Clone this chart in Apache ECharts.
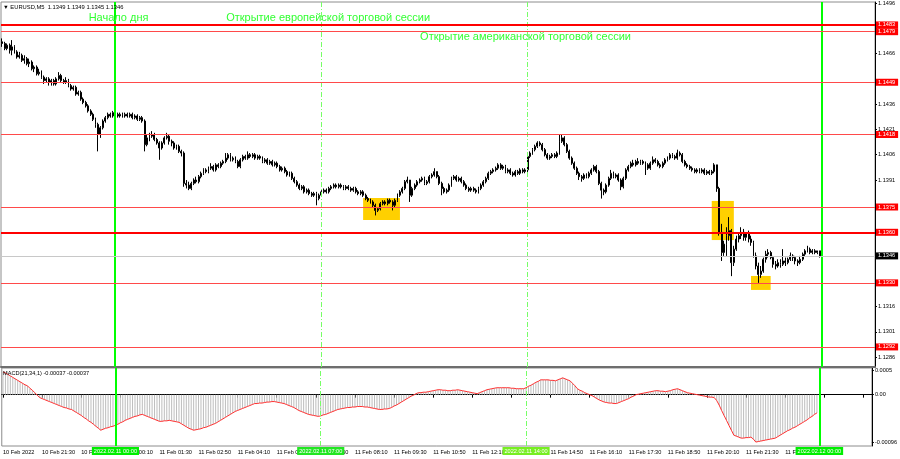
<!DOCTYPE html>
<html><head><meta charset="utf-8">
<script src="https://cdn.jsdelivr.net/npm/echarts@6/dist/echarts.min.js"></script>
<style>html,body{margin:0;padding:0;background:#fff}#c{width:900px;height:459px}</style>
</head><body><div id="c"></div>
<script>
// ===== DATA (EURUSD M5, prices stored as pips above 1.1300) =====
const PRICE_BASE = 1.13, PIP = 0.0001;
const openPips = [
173,172,169,171,168,170,167,164,165,162,
163,160,161,157,158,154,155,152,150,151,
149,150,148,151,153,150,149,150,147,145,
146,142,143,139,137,135,132,130,127,124,
118,122,126,128,130,129,131,130,129,130,
129,130,129,130,128,129,127,128,126,112,
116,117,118,115,113,110,113,116,117,114,
113,110,111,108,107,89,88,86,89,91,
90,93,95,97,96,98,99,97,100,99,
101,102,104,106,103,104,102,99,103,105,
104,106,105,106,104,105,104,102,103,101,
102,100,101,99,97,98,96,94,95,92,
90,88,86,87,84,85,83,82,83,80,
82,84,85,84,86,87,88,87,88,87,
86,87,86,85,86,84,83,84,82,80,
79,78,76,73,74,77,78,77,79,78,
76,79,82,84,86,90,91,82,86,88,
90,91,92,89,90,93,94,96,93,89,
86,84,85,88,92,93,91,92,90,88,
86,85,86,85,84,86,88,90,92,95,
96,97,98,100,98,99,96,97,95,94,
96,95,97,96,97,105,107,109,111,113,
112,109,106,104,105,106,105,107,114,116,
112,108,104,101,98,95,93,92,94,93,
95,97,99,96,89,85,84,88,92,95,
93,94,91,87,92,97,99,101,100,102,
101,102,101,100,98,101,103,102,100,99,
101,103,104,106,105,104,107,106,102,100,
99,98,97,96,97,96,97,95,96,95,
96,100,86,60,48,53,58,61,42,50,
56,58,60,57,59,56,54,46,40,35,
37,44,47,48,45,41,40,42,41,43,
42,44,46,45,43,42,44,47,49,50,
48,49,48,49];
const highPips = [
175,173,172,172,174,171,168,167,166,165,
164,163,162,159,159,157,156,153,152,152,
151,151,152,155,154,151,152,151,148,147,
147,144,144,140,138,136,133,131,128,125,
123,127,129,131,131,132,132,131,131,131,
131,131,131,131,130,130,129,129,127,118,
119,120,119,116,114,114,117,119,118,115,
114,112,112,109,108,91,90,90,92,93,
94,96,98,98,99,101,100,101,101,102,
103,107,107,107,105,105,103,104,106,106,
108,107,107,107,106,106,105,104,104,103,
103,102,102,100,99,99,97,96,96,93,
91,89,88,88,86,86,84,84,84,83,
85,86,86,87,88,89,89,89,89,88,
88,88,87,87,87,85,85,85,83,81,
80,79,77,75,78,79,79,80,80,79,
80,83,85,87,91,93,91,87,89,91,
92,93,93,91,94,95,98,96,94,90,
87,86,89,93,94,94,93,93,91,89,
87,87,87,86,87,89,91,93,96,97,
98,99,101,101,100,100,98,98,96,97,
97,98,98,98,107,108,110,112,114,114,
113,110,107,106,107,107,108,118,118,117,
113,109,105,102,99,96,94,95,95,96,
98,100,100,97,90,86,89,93,97,96,
95,95,92,93,98,100,102,103,103,104,
103,103,102,101,102,105,104,103,101,102,
104,105,107,107,106,109,108,107,103,101,
100,99,98,98,98,98,98,97,97,97,
101,100,87,65,55,63,69,62,52,58,
60,63,62,60,61,58,55,48,42,40,
45,49,50,49,46,43,44,44,50,45,
45,48,47,46,44,46,48,50,52,51,
50,50,49,49];
const lowPips = [
170,168,168,166,165,166,163,163,161,160,
159,158,156,155,153,153,151,148,149,147,
147,147,147,150,149,148,148,146,144,144,
141,141,138,136,134,131,129,126,122,108,
116,121,125,127,128,128,129,128,128,128,
128,128,128,127,127,126,126,125,108,111,
114,116,114,112,103,109,112,115,112,111,
109,109,107,105,87,86,85,85,88,89,
89,92,94,95,95,97,96,96,98,98,
100,101,103,102,102,101,98,98,102,103,
103,104,104,103,103,103,101,101,100,100,
99,99,98,96,96,95,93,93,91,89,
87,85,85,83,83,82,81,81,76,79,
81,83,83,83,85,86,86,86,86,85,
85,85,84,84,83,82,82,81,79,78,
77,75,70,72,73,76,76,76,77,73,
75,78,81,83,85,89,78,81,85,87,
89,90,88,88,89,92,93,92,88,82,
83,83,84,87,91,90,90,89,87,85,
84,84,84,83,83,85,87,89,91,94,
95,96,97,97,97,95,95,94,93,93,
94,94,95,95,95,104,106,108,110,111,
108,105,103,103,104,104,104,106,113,111,
107,103,100,97,94,91,90,91,92,92,
94,96,95,88,80,82,83,87,91,92,
92,90,85,86,91,96,98,99,99,100,
100,100,94,97,97,100,101,99,98,98,
100,102,103,104,103,103,105,101,99,98,
97,96,95,95,95,95,94,94,94,94,
95,84,58,43,46,46,55,34,40,49,
54,56,55,55,54,52,45,38,30,33,
36,42,45,44,39,38,39,39,40,40,
41,43,43,41,40,41,43,46,48,47,
47,47,47,45];
const closePips = [
172,169,171,168,170,167,164,165,162,163,
160,161,157,158,154,155,152,150,151,149,
150,148,151,153,150,149,150,147,145,146,
142,143,139,137,135,132,130,127,124,118,
122,126,128,130,129,131,130,129,130,129,
130,129,130,128,129,127,128,126,112,116,
117,118,115,113,110,113,116,117,114,113,
110,111,108,107,89,88,86,89,91,90,
93,95,97,96,98,99,97,100,99,101,
102,104,106,103,104,102,99,103,105,104,
106,105,106,104,105,104,102,103,101,102,
100,101,99,97,98,96,94,95,92,90,
88,86,87,84,85,83,82,83,80,82,
84,85,84,86,87,88,87,88,87,86,
87,86,85,86,84,83,84,82,80,79,
78,76,73,74,77,78,77,79,78,76,
79,82,84,86,90,91,82,86,88,90,
91,92,89,90,93,94,96,93,89,86,
84,85,88,92,93,91,92,90,88,86,
85,86,85,84,86,88,90,92,95,96,
97,98,100,98,99,96,97,95,94,96,
95,97,96,97,105,107,109,111,113,112,
109,106,104,105,106,105,107,114,116,112,
108,104,101,98,95,93,92,94,93,95,
97,99,96,89,85,84,88,92,95,93,
94,91,87,92,97,99,101,100,102,101,
102,101,100,98,101,103,102,100,99,101,
103,104,106,105,104,107,106,102,100,99,
98,97,96,97,96,97,95,96,95,96,
100,86,60,48,53,58,61,42,50,56,
58,60,57,59,56,54,46,40,35,37,
44,47,48,45,41,40,42,41,43,42,
44,46,45,43,42,44,47,49,50,48,
49,48,49,46];
// MACD(21,34,1) main value, in units of 0.00001 (signal with period 1 equals it)
const macdE5 = [
46,44,41,38,35,32,29,26,23,20,
18,13,9,4,-1,-6,-8,-10,-12,-14,
-16,-18,-20,-22,-24,-26,-27,-29,-30,-33,
-36,-39,-42,-46,-49,-53,-56,-60,-64,-68,
-72,-70,-68,-67,-65,-64,-62,-60,-57,-55,
-52,-50,-48,-46,-44,-43,-41,-40,-42,-44,
-46,-48,-50,-52,-54,-54,-53,-53,-52,-53,
-54,-55,-56,-59,-62,-65,-68,-70,-72,-71,
-70,-69,-67,-66,-64,-62,-60,-58,-55,-52,
-49,-46,-43,-40,-37,-34,-32,-30,-28,-26,
-24,-22,-20,-18,-18,-17,-17,-16,-15,-15,
-14,-14,-15,-16,-17,-18,-20,-22,-24,-26,
-29,-32,-34,-36,-38,-40,-41,-42,-43,-44,
-43,-41,-40,-38,-36,-34,-32,-30,-29,-28,
-27,-26,-26,-25,-25,-24,-24,-24,-25,-25,
-26,-27,-28,-29,-30,-30,-29,-29,-28,-26,
-23,-21,-18,-15,-12,-9,-6,-3,-1,2,
4,4,5,5,6,7,8,9,10,10,
9,9,8,8,9,9,10,9,8,7,
6,5,4,3,2,4,6,8,10,11,
12,13,14,14,14,14,14,14,13,13,
12,12,12,12,14,17,19,22,25,27,
30,30,30,30,29,29,28,30,32,34,
32,30,28,23,18,12,9,7,4,2,
0,-2,-5,-8,-11,-13,-15,-16,-17,-17,
-18,-18,-16,-14,-12,-10,-8,-5,-3,0,
1,2,3,4,5,6,7,8,8,7,
7,6,7,8,10,11,12,10,8,6,
4,3,2,1,0,-1,-2,-3,-4,-5,
-5,-6,-12,-21,-32,-42,-52,-62,-72,-82,
-84,-86,-88,-88,-87,-87,-86,-90,-96,-95,
-94,-93,-92,-91,-90,-89,-88,-85,-82,-79,
-76,-73,-71,-68,-66,-63,-60,-57,-54,-51,
-47,-44,-40,-37];

// Horizontal levels and current price
const levels = [1.1483, 1.1479, 1.1449, 1.1418, 1.1375, 1.1360, 1.1330, 1.1292];
const currentPrice = 1.1346;
// Price-scale ticks (all) and the tick labels left visible beside the price tags
const priceTicks = [1.1496,1.1481,1.1466,1.1451,1.1436,1.1421,1.1406,1.1391,1.1376,1.1361,1.1346,1.1331,1.1316,1.1301,1.1286];
const priceTickLabels = [1.1496,1.1466,1.1436,1.1421,1.1406,1.1391,1.1316,1.1301,1.1286];
const macdTicks = [0.0005, 0, -0.00096];
const macdTickLabels = ['0.0005', '0.00', '-0.00096'];
// Time-axis labels (one every 16 bars, starting at bar 0)
const xLabels = ['10 Feb 2022','10 Feb 21:30','10 Feb 22:50','11 Feb 00:10','11 Feb 01:30','11 Feb 02:50','11 Feb 04:10','11 Feb 05:30','11 Feb 06:50','11 Feb 08:10','11 Feb 09:30','11 Feb 10:50','11 Feb 12:10','11 Feb 13:30','11 Feb 14:50','11 Feb 16:10','11 Feb 17:30','11 Feb 18:50','11 Feb 20:10','11 Feb 21:30','11 Feb 22:50'];
// Vertical time lines
const dayLines = ['2022.02.11 00:00', '2022.02.12 00:00'];
const sessionLines = ['2022.02.11 07:00', '2022.02.11 14:00'];
// Highlighted zones: [from bar time, to bar time, top price, bottom price]
const zones = [
  ['2022.02.11 08:25','2022.02.11 09:40',1.13803,1.13673],
  ['2022.02.11 20:15','2022.02.11 21:00',1.13786,1.13554],
  ['2022.02.11 21:35','2022.02.11 22:15',1.13341,1.13258]
];
// Text annotations: [text, anchor time, anchor price]
const notes = [
  ['Начало дня', '2022.02.10 23:05', 1.14871],
  ['Открытие европейской торговой сессии', '2022.02.11 03:45', 1.14871],
  ['Открытие американской торговой сессии', '2022.02.11 10:20', 1.14758]
];
const titleText = '▼ EURUSD,M5  1.1349 1.1349 1.1345 1.1346';
const macdTitle = 'MACD(21,34,1) -0.00037 -0.00037';

// ===== time categories (M5 slots incl. right chart shift) =====
const SLOT_COUNT = 356;
const categories = [];
for (let i = 0; i < SLOT_COUNT; i++) {
  const m = 20 * 60 + 10 + 5 * i;
  const d = 10 + Math.floor(m / 1440), hm = m % 1440;
  categories.push('2022.02.' + d + ' ' + String(Math.floor(hm / 60)).padStart(2, '0') + ':' + String(hm % 60).padStart(2, '0'));
}

const P = p => +(PRICE_BASE + p * PIP).toFixed(4);
const candles = closePips.map((c, i) => [P(openPips[i]), P(c), P(lowPips[i]), P(highPips[i])]);
const macd = macdE5.map(v => v * 1e-5);

const FONT = 'Liberation Sans';
const SMALL = 5.6;
const boldLevels = new Set([1.1483, 1.1360]);

const tag = (bg, text) => ({ show: true, position: 'end', distance: 1, formatter: text, backgroundColor: bg, color: '#fff', fontSize: SMALL, lineHeight: 6, fontFamily: FONT, padding: [1, 3, 0, 2] });
const hLines = [{
  yAxis: currentPrice,
  lineStyle: { color: '#c8c8c8', width: 1, type: 'solid' },
  label: tag('#000', currentPrice.toFixed(4))
}].concat(levels.map(v => ({
  yAxis: v,
  lineStyle: { color: boldLevels.has(v) ? '#ff0000' : '#ff4a4a', width: boldLevels.has(v) ? 2 : 1, type: 'solid' },
  label: tag('#ff0000', v.toFixed(4))
})));
const vLineStyleDay = { color: '#00ff00', width: 2, type: 'solid' };
const vLineStyleSes = { color: '#77ff66', width: 1, type: [5, 2, 1, 2] };
const vMain = dayLines.map(t => ({ xAxis: t, lineStyle: vLineStyleDay, label: { show: false } }))
  .concat(sessionLines.map(t => ({ xAxis: t, lineStyle: vLineStyleSes, label: { show: false } })));
const tagLabel = bg => ({ show: true, position: 'start', distance: 1, backgroundColor: bg, color: '#fff', fontSize: SMALL, lineHeight: 7, fontFamily: FONT, padding: [1, 2, 0, 2] });
const vMacd = [
  { xAxis: dayLines[0], lineStyle: vLineStyleDay, label: Object.assign(tagLabel('#00ee00'), { formatter: dayLines[0] }) },
  { xAxis: dayLines[1], lineStyle: vLineStyleDay, label: Object.assign(tagLabel('#00ee00'), { formatter: dayLines[1] }) },
  { xAxis: sessionLines[0], lineStyle: vLineStyleSes, label: Object.assign(tagLabel('#22e622'), { formatter: sessionLines[0] }) },
  { xAxis: sessionLines[1], lineStyle: vLineStyleSes, label: Object.assign(tagLabel('#77ee22'), { formatter: sessionLines[1] }) }
];

const chart = echarts.init(document.getElementById('c'), null, { renderer: 'canvas' });
chart.setOption({
  animation: false,
  backgroundColor: '#fff',
  title: [
    { text: titleText, left: 3, top: 4, padding: 0, textStyle: { fontSize: 5.8, fontWeight: 'normal', color: '#000', fontFamily: FONT } },
    { text: macdTitle, left: 3, top: 370, padding: 0, textStyle: { fontSize: SMALL, fontWeight: 'normal', color: '#000', fontFamily: FONT } }
  ],
  grid: [
    { left: 1, width: 874, top: 2, height: 365, show: true, borderColor: '#8c8c8c', borderWidth: 1 },
    { left: 1, width: 874, top: 368, height: 78, show: true, borderColor: '#8c8c8c', borderWidth: 1 }
  ],
  xAxis: [
    { type: 'category', gridIndex: 0, data: categories, boundaryGap: true,
      axisLine: { show: true, lineStyle: { color: '#6e6e6e', width: 2 } }, axisTick: { show: false }, axisLabel: { show: false }, splitLine: { show: false } },
    { type: 'category', gridIndex: 1, data: categories, boundaryGap: true,
      axisLine: { show: true, lineStyle: { color: '#000', width: 1 } },
      axisTick: { show: true, interval: 15, length: 3, alignWithLabel: true, lineStyle: { color: '#000' } },
      axisLabel: { show: true, interval: 15, align: 'left', margin: 3, fontSize: SMALL, color: '#000', fontFamily: FONT,
        formatter: (v, i) => (i % 16 === 0 && xLabels[i / 16]) ? xLabels[i / 16] : '' },
      splitLine: { show: false } }
  ],
  yAxis: [
    { type: 'value', gridIndex: 0, position: 'right', min: 1.12801, max: 1.14966,
      axisLine: { show: true, lineStyle: { color: '#000' } },
      axisTick: { show: true, length: 2, customValues: priceTicks, lineStyle: { color: '#000' } },
      axisLabel: { show: true, customValues: priceTickLabels, margin: 3, fontSize: SMALL, color: '#000', fontFamily: FONT, formatter: v => v.toFixed(4) },
      splitLine: { show: false } },
    { type: 'value', gridIndex: 1, position: 'right', min: -0.00104, max: 0.00054,
      axisLine: { show: true, lineStyle: { color: '#000' } },
      axisTick: { show: true, length: 2, customValues: macdTicks, lineStyle: { color: '#000' } },
      axisLabel: { show: true, customValues: macdTicks, margin: 3, fontSize: SMALL, color: '#000', fontFamily: FONT,
        formatter: v => { let k = 0; macdTicks.forEach((t, j) => { if (Math.abs(t - v) < 1e-7) k = j; }); return macdTickLabels[k]; } },
      splitLine: { show: false } }
  ],
  series: [
    { type: 'candlestick', xAxisIndex: 0, yAxisIndex: 0, data: candles, barWidth: 1.4,
      itemStyle: { color: '#ffffff', color0: '#000000', borderColor: '#000000', borderColor0: '#000000', borderWidth: 1 },
      markArea: { silent: true, itemStyle: { color: '#ffd000' },
        data: zones.map(z => [{ xAxis: z[0], yAxis: z[2] }, { xAxis: z[1], yAxis: z[3] }]) },
      markLine: { silent: true, symbol: ['none', 'none'], animation: false, data: vMain },
      markPoint: { silent: true, symbol: 'rect', symbolSize: 1, itemStyle: { color: 'rgba(0,0,0,0)' },
        label: { show: true, position: 'right', distance: 0, formatter: '{b}', color: '#33ff33', fontSize: 11, fontFamily: FONT },
        data: notes.map(n => ({ name: n[0], coord: [n[1], n[2]] })) }
    },
    { type: 'line', xAxisIndex: 0, yAxisIndex: 0, data: [], symbol: 'none', z: 4,
      markLine: { silent: true, precision: 6, symbol: ['none', 'none'], animation: false, data: hLines } },
    { type: 'bar', xAxisIndex: 1, yAxisIndex: 1, data: macd, barWidth: 1, itemStyle: { color: '#bdbdbd' },
      markLine: { silent: true, symbol: ['none', 'none'], animation: false, data: vMacd } },
    { type: 'line', xAxisIndex: 1, yAxisIndex: 1, data: macd, symbol: 'none', lineStyle: { color: '#ff3030', width: 1 }, z: 3 }
  ]
});
</script>
</body></html>
